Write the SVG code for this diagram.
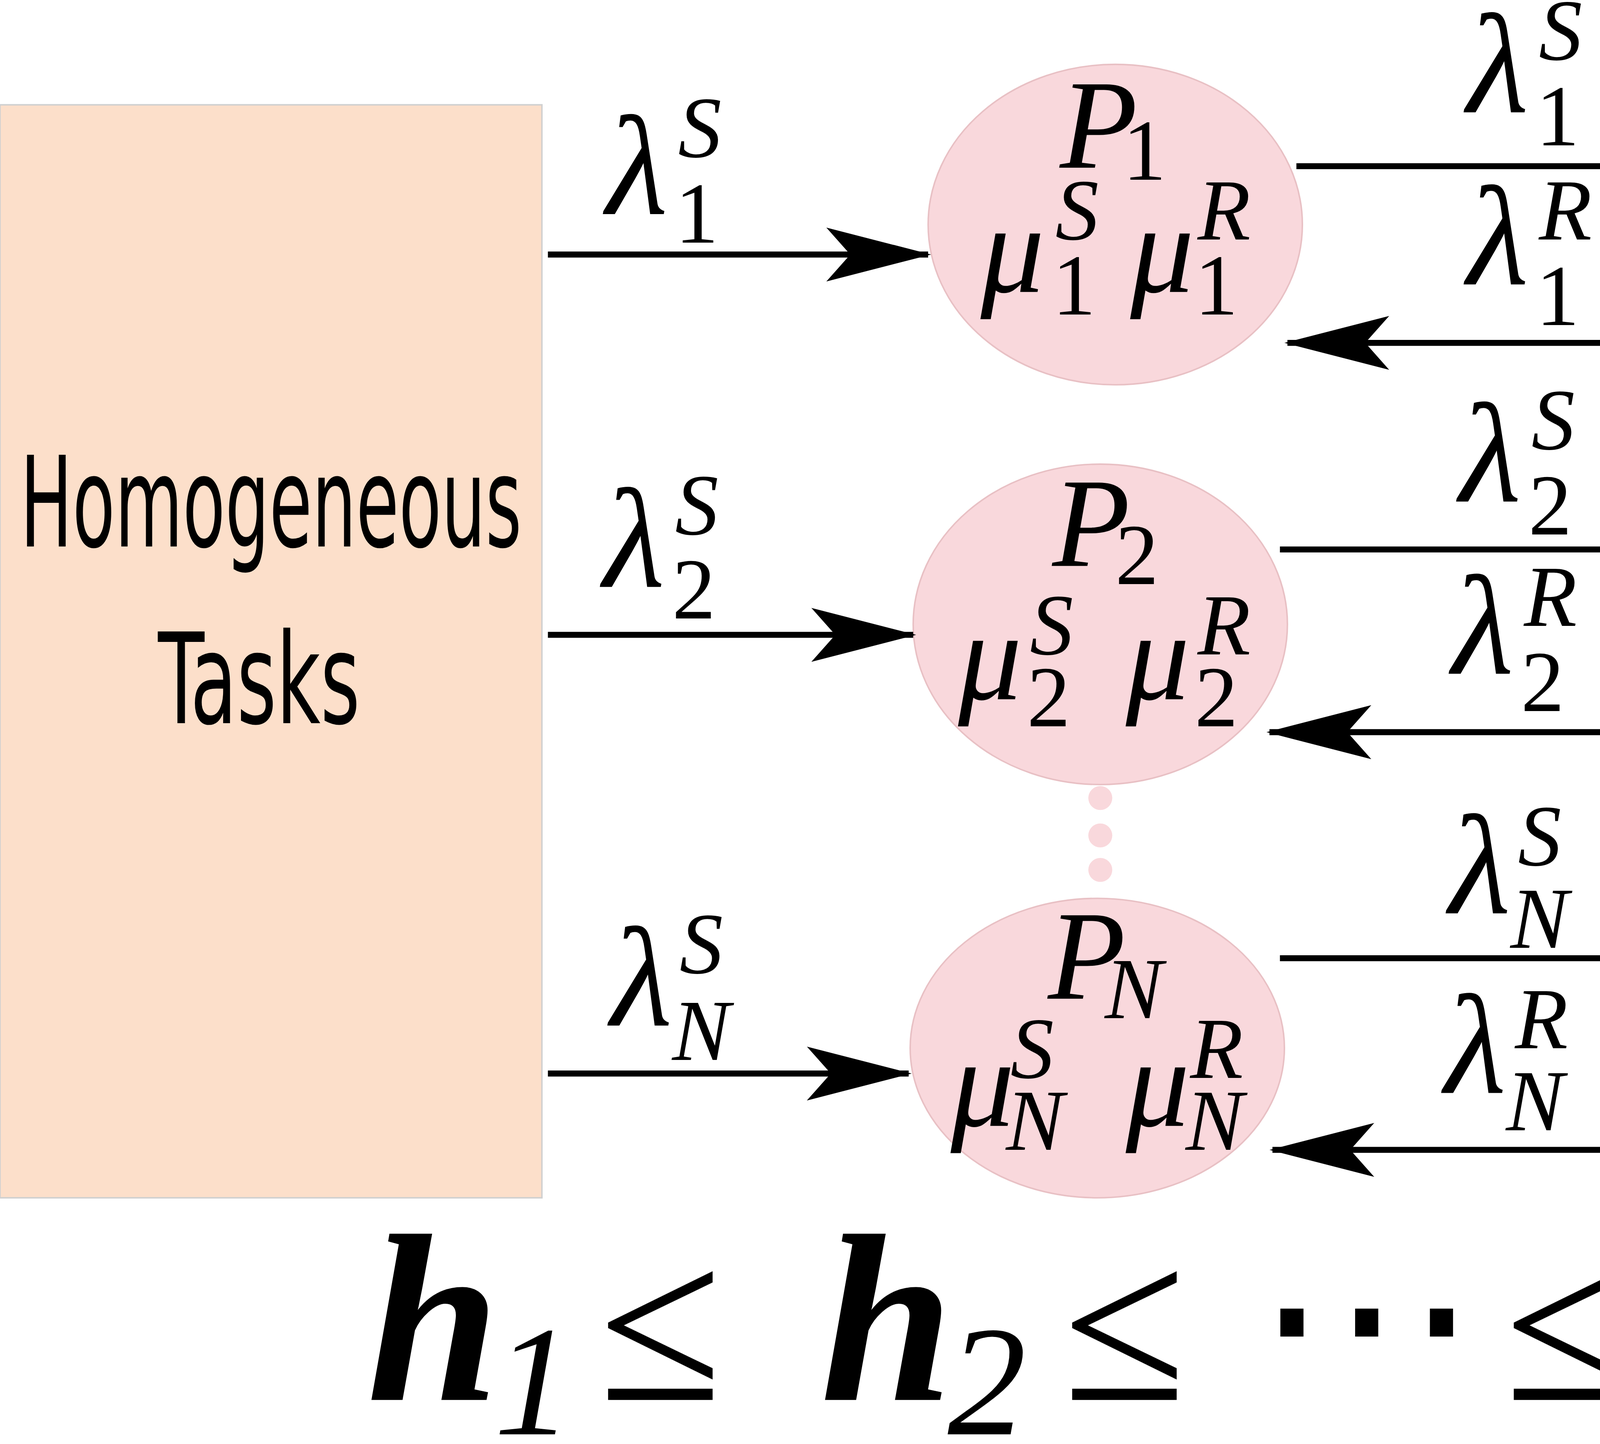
<svg xmlns="http://www.w3.org/2000/svg" width="6009" height="3696" viewBox="0 0 6009 3696">
<style>
.m{font-family:"Liberation Serif",serif;font-style:italic;fill:#000}
.u{font-family:"Liberation Serif",serif;fill:#000}
.b{font-size:85px}.s{font-size:58px}.g{font-size:95px}
.l{font-family:"DejaVu Sans Condensed","DejaVu Sans",sans-serif;font-size:84px;fill:#000;text-anchor:middle}
.c{stroke:#000;stroke-width:4;fill:none}
.n{fill:#f9d8dc;stroke:#e8c0c4;stroke-width:1}
.r{fill:#fcdfca;stroke:#d0d0d0;stroke-width:1}
</style>
<defs><marker id="a" viewBox="0 0 70 40" refX="68" refY="20" markerWidth="70" markerHeight="40" markerUnits="userSpaceOnUse" orient="auto"><path d="M0,2 L70,20 L0,38 L16,20 Z" fill="#000"/></marker></defs>
<rect width="6009" height="3696" fill="#fff"/>
<g transform="scale(3.8323)">
<g id="tasks"><rect class="r" x="0" y="70" width="362" height="730"/>
<text class="l" x="181" y="365" textLength="335" lengthAdjust="spacingAndGlyphs">Homogeneous</text>
<text class="l" x="173" y="483" textLength="135" lengthAdjust="spacingAndGlyphs">Tasks</text></g>
<g id="pool"><rect class="r" x="1205" y="65" width="363" height="735"/>
<text class="l" x="1394" y="322" textLength="278" lengthAdjust="spacingAndGlyphs">Common</text>
<text class="l" x="1388" y="422" textLength="233" lengthAdjust="spacingAndGlyphs">Review</text>
<text class="l" x="1389" y="512" textLength="142" lengthAdjust="spacingAndGlyphs">Pool</text></g>
<g id="p1"><ellipse class="n" cx="745" cy="150" rx="125" ry="107"/>
<text class="m b" x="708" y="112">P</text><text class="u s" x="750" y="120">1</text>
<text class="m b" x="655" y="195">μ</text><text class="m s" x="705" y="160">S</text><text class="u s" x="703" y="210">1</text>
<text class="m b" x="755" y="195">μ</text><text class="m s" x="800" y="160">R</text><text class="u s" x="798" y="210">1</text></g>
<g id="p2"><ellipse class="n" cx="735" cy="417" rx="125" ry="107"/>
<text class="m b" x="703" y="378">P</text><text class="u s" x="745" y="390">2</text>
<text class="m b" x="640" y="467">μ</text><text class="m s" x="688" y="437">S</text><text class="u s" x="686" y="485">2</text>
<text class="m b" x="752" y="467">μ</text><text class="m s" x="800" y="437">R</text><text class="u s" x="798" y="485">2</text></g>
<g id="dots" fill="#f9d8dc"><circle cx="735" cy="533" r="8"/><circle cx="735" cy="558" r="8"/><circle cx="735" cy="581" r="8"/></g>
<g id="pN"><ellipse class="n" cx="733" cy="700" rx="125" ry="100"/>
<text class="m b" x="700" y="667">P</text><text class="m s" x="738" y="680">N</text>
<text class="m b" x="635" y="752">μ</text><text class="m s" x="675" y="720">S</text><text class="m s" x="672" y="768">N</text>
<text class="m b" x="752" y="752">μ</text><text class="m s" x="795" y="720">R</text><text class="m s" x="792" y="768">N</text></g>
<g id="connectors">
<line class="c" x1="366" y1="170" x2="620" y2="170" marker-end="url(#a)"/>
<line class="c" x1="366" y1="424" x2="610" y2="424" marker-end="url(#a)"/>
<line class="c" x1="366" y1="717" x2="607" y2="717" marker-end="url(#a)"/>
<line class="c" x1="866" y1="111" x2="1205" y2="111" marker-end="url(#a)"/>
<line class="c" x1="1205" y1="229" x2="860" y2="229" marker-end="url(#a)"/>
<line class="c" x1="855" y1="367" x2="1193" y2="367" marker-end="url(#a)"/>
<line class="c" x1="1193" y1="489" x2="848" y2="489" marker-end="url(#a)"/>
<line class="c" x1="855" y1="640" x2="1193" y2="640" marker-end="url(#a)"/>
<line class="c" x1="1195" y1="768" x2="850" y2="768" marker-end="url(#a)"/>
</g>
<g id="labels">
<text class="m g" x="405" y="143">λ</text><text class="m s" x="453" y="105">S</text><text class="u s" x="451" y="162">1</text>
<text class="m g" x="403" y="392">λ</text><text class="m s" x="451" y="357">S</text><text class="u s" x="449" y="413">2</text>
<text class="m g" x="408" y="685">λ</text><text class="m s" x="454" y="650">S</text><text class="m s" x="449" y="708">N</text>
<text class="m g" x="980" y="75">λ</text><text class="m s" x="1028" y="40">S</text><text class="u s" x="1026" y="97">1</text>
<text class="m g" x="980" y="190">λ</text><text class="m s" x="1028" y="160">R</text><text class="u s" x="1026" y="217">1</text>
<text class="m g" x="975" y="335">λ</text><text class="m s" x="1023" y="300">S</text><text class="u s" x="1021" y="357">2</text>
<text class="m g" x="970" y="450">λ</text><text class="m s" x="1018" y="418">R</text><text class="u s" x="1016" y="475">2</text>
<text class="m g" x="968" y="610">λ</text><text class="m s" x="1014" y="578">S</text><text class="m s" x="1009" y="633">N</text>
<text class="m g" x="965" y="730">λ</text><text class="m s" x="1012" y="700">R</text><text class="m s" x="1006" y="755">N</text>
</g>
<g id="formula" font-family="Liberation Serif,serif">
<text x="245" y="935" font-size="160" font-style="italic" font-weight="bold">h</text>
<text x="330" y="958" font-size="105" font-style="italic">1</text>
<text x="400" y="935" font-size="150">≤</text>
<text x="548" y="935" font-size="160" font-style="italic" font-weight="bold">h</text>
<text x="633" y="958" font-size="105" font-style="italic">2</text>
<text x="710" y="935" font-size="150">≤</text>
<text x="838" y="930" font-size="150">⋯</text>
<text x="1005" y="935" font-size="150">≤</text>
<text x="1130" y="935" font-size="160" font-style="italic" font-weight="bold">h</text>
<text x="1200" y="958" font-size="105" font-style="italic">N</text>
</g>
</g>
</svg>
